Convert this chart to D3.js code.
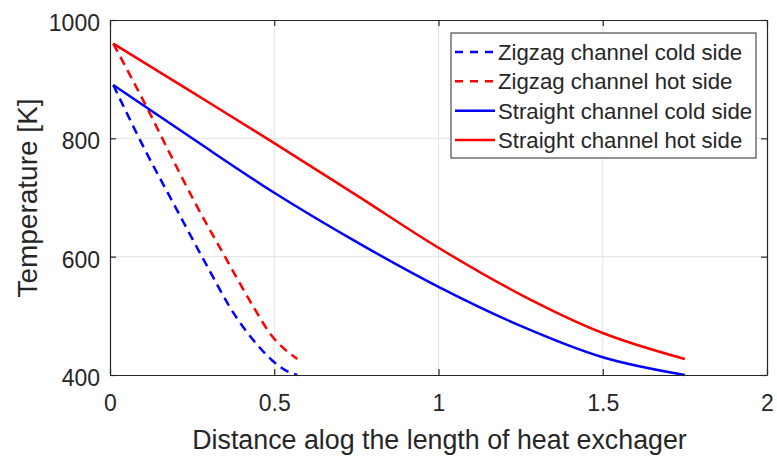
<!DOCTYPE html>
<html>
<head>
<meta charset="utf-8">
<script src="https://cdn.jsdelivr.net/npm/d3@7"></script>
<style>
  body { margin: 0; background: #fff; }
  text { font-family: "Liberation Sans", Arial, Helvetica, sans-serif; fill: #262626; }
</style>
</head>
<body>
<div id="chart"></div>
<script>
// distance along heat exchanger (x) and temperature [K] (y)
const zigzagColdX = [0.01, 0.036, 0.107, 0.2, 0.28, 0.39, 0.45, 0.493, 0.54, 0.57];
const zigzagColdT = [890, 860, 780, 683, 600, 493, 450, 425, 406, 400];
const zigzagHotX = [0.01, 0.116, 0.177, 0.26, 0.35, 0.44, 0.49, 0.533, 0.57];
const zigzagHotT = [960, 848, 780, 690, 600, 512, 468, 443, 427];
const straightX = [0.01, 0.25, 0.5, 0.75, 1, 1.25, 1.5, 1.75];
const straightColdT = [890, 800, 708, 625, 549, 483, 430, 400];
const straightHotT = [960, 878, 792, 704, 615, 536, 471, 427];

const xTicks = [0, 0.5, 1, 1.5, 2];
const yTicks = [400, 600, 800, 1000];
const legendLabels = [
  "Zigzag channel cold side",
  "Zigzag channel hot side",
  "Straight channel cold side",
  "Straight channel hot side"
];

const series = [
  { name: legendLabels[0], x: zigzagColdX, y: zigzagColdT, color: "#0000ff", dash: "9,6" },
  { name: legendLabels[1], x: zigzagHotX, y: zigzagHotT, color: "#ff0000", dash: "9,6" },
  { name: legendLabels[2], x: straightX, y: straightColdT, color: "#0000ff", dash: null },
  { name: legendLabels[3], x: straightX, y: straightHotT, color: "#ff0000", dash: null }
];

const width = 777, height = 461;
const margin = { top: 20, right: 10, bottom: 86, left: 110 };
const w = width - margin.left - margin.right,
  h = height - margin.top - margin.bottom;

const svg = d3.select("#chart").append("svg")
  .attr("width", width)
  .attr("height", height);

const g = svg.append("g")
  .attr("transform", `translate(${margin.left},${margin.top})`);

const x = d3.scaleLinear().domain([0, 2]).range([0, w]);
const y = d3.scaleLinear().domain([400, 1000]).range([h, 0]);

// grid
g.selectAll(".gx").data(xTicks.slice(1, -1)).join("line")
  .attr("x1", d => x(d)).attr("x2", d => x(d))
  .attr("y1", 0).attr("y2", h)
  .attr("stroke", "#e3e3e3").attr("stroke-width", 1);
g.selectAll(".gy").data(yTicks.slice(1, -1)).join("line")
  .attr("y1", d => y(d)).attr("y2", d => y(d))
  .attr("x1", 0).attr("x2", w)
  .attr("stroke", "#e3e3e3").attr("stroke-width", 1);

// lines
const line = d3.line()
  .x(d => x(d[0]))
  .y(d => y(d[1]))
  .curve(d3.curveMonotoneX);

series.forEach(s => {
  g.append("path")
    .datum(d3.zip(s.x, s.y))
    .attr("d", line)
    .attr("fill", "none")
    .attr("stroke", s.color)
    .attr("stroke-width", 2.5)
    .attr("stroke-dasharray", s.dash);
});

// axes (box with inward ticks)
const axisColor = "#262626";
const xAxis = g.append("g").attr("transform", `translate(0,${h})`)
  .call(d3.axisBottom(x).tickValues(xTicks).tickFormat(d3.format("~g")).tickSizeInner(-6).tickSizeOuter(0).tickPadding(19));
const yAxis = g.append("g")
  .call(d3.axisLeft(y).tickValues(yTicks).tickFormat(d3.format("d")).tickSizeInner(-6).tickSizeOuter(0).tickPadding(10));
const xTop = g.append("g")
  .call(d3.axisTop(x).tickValues(xTicks).tickSizeInner(-6).tickSizeOuter(0).tickFormat(""));
const yRight = g.append("g").attr("transform", `translate(${w},0)`)
  .call(d3.axisRight(y).tickValues(yTicks).tickSizeInner(-6).tickSizeOuter(0).tickFormat(""));

[xAxis, yAxis, xTop, yRight].forEach(a => {
  a.select(".domain").attr("stroke", axisColor).attr("stroke-width", 1.2);
  a.selectAll(".tick line").attr("stroke", axisColor).attr("stroke-width", 1.2);
  a.selectAll("text").attr("font-size", 23).attr("font-family", null).attr("fill", axisColor);
});
xAxis.selectAll("text").attr("dy", "0.75em");
yAxis.selectAll("text").attr("dy", "0.45em");

// axis labels
svg.append("text")
  .attr("x", margin.left + w / 2 + 1)
  .attr("y", 449)
  .attr("text-anchor", "middle")
  .attr("font-size", 26.8)
  .text("Distance alog the length of heat exchager");

svg.append("text")
  .attr("transform", `translate(37,${margin.top + 178}) rotate(-90)`)
  .attr("text-anchor", "middle")
  .attr("font-size", 28)
  .text("Temperature [K]");

// legend
const lg = svg.append("g").attr("transform", "translate(451,33)");
lg.append("rect")
  .attr("width", 305).attr("height", 125)
  .attr("fill", "#fff").attr("stroke", axisColor).attr("stroke-width", 1);
const rowY = d3.scalePoint().domain(legendLabels).range([19, 107]);
series.forEach(s => {
  const yy = rowY(s.name);
  lg.append("line")
    .attr("x1", 4).attr("x2", 44).attr("y1", yy).attr("y2", yy)
    .attr("stroke", s.color).attr("stroke-width", 2.5)
    .attr("stroke-dasharray", s.dash ? "8,7" : null);
  lg.append("text")
    .attr("x", 47).attr("y", yy).attr("dy", "0.36em")
    .attr("font-size", 22.2)
    .attr("fill", "#000")
    .text(s.name);
});
</script>
</body>
</html>
